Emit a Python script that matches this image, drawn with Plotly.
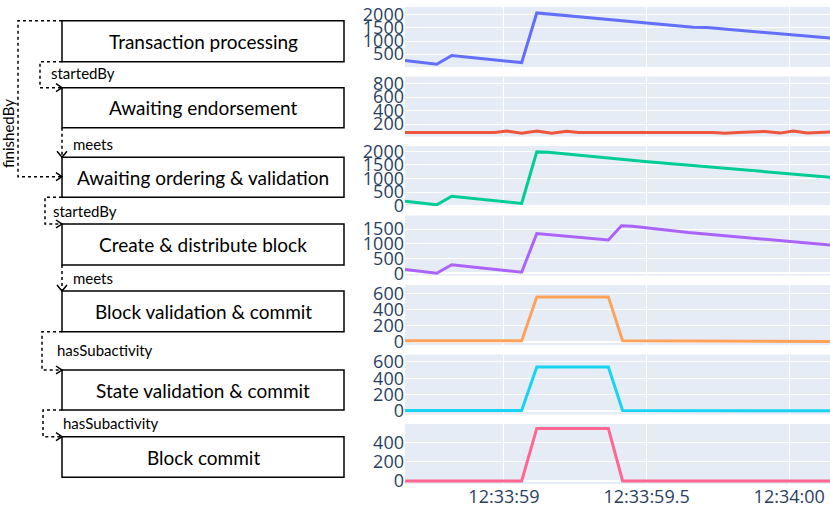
import plotly.graph_objects as go
from plotly.subplots import make_subplots

# ---------------- data ----------------
D = "2021-01-01 "
t_main = [D + s for s in ["12:33:58.653", "12:33:58.764", "12:33:58.817", "12:33:59.062", "12:33:59.115",
                          "12:33:59.663", "12:33:59.712", "12:34:00.143"]]
tx_processing = [257, 117, 448, 181, 2064, 1520, 1515, 1109]

t_endorse = [D + s for s in ["12:33:58.653", "12:33:58.968", "12:33:59.009", "12:33:59.062", "12:33:59.115",
                             "12:33:59.167", "12:33:59.220", "12:33:59.261", "12:33:59.733", "12:33:59.775",
                             "12:33:59.820", "12:33:59.915", "12:33:59.968", "12:34:00.014", "12:34:00.063",
                             "12:34:00.143"]]
awaiting_endorsement = [75, 75, 95, 62, 97, 62, 92, 75, 75, 63, 75, 90, 65, 97, 68, 82]

t_order = [D + s for s in ["12:33:58.653", "12:33:58.764", "12:33:58.817", "12:33:59.062", "12:33:59.115",
                           "12:33:59.155", "12:33:59.494", "12:33:59.974", "12:34:00.143"]]
awaiting_ordering = [165, 38, 354, 89, 1975, 1965, 1620, 1210, 1050]

t_block = [D + s for s in ["12:33:58.653", "12:33:58.764", "12:33:58.817", "12:33:59.062", "12:33:59.115",
                           "12:33:59.366", "12:33:59.412", "12:33:59.450", "12:33:59.647", "12:33:59.705",
                           "12:33:59.916", "12:34:00.143"]]
create_block = [127, 0, 289, 35, 1351, 1132, 1617, 1600, 1386, 1340, 1155, 958]

t_commit = [D + s for s in ["12:33:58.653", "12:33:59.062", "12:33:59.115", "12:33:59.366", "12:33:59.416",
                            "12:34:00.143"]]
block_validation = [13, 13, 558, 558, 13, 5]
state_validation = [8, 8, 538, 538, 8, 5]
block_commit = [0, 0, 549, 549, 0, 0]

x_tickvals = [D + "12:33:59", D + "12:33:59.5", D + "12:34:00"]
x_ticktext = ["12:33:59", "12:33:59.5", "12:34:00"]
x_range = [D + "12:33:58.653", D + "12:34:00.143"]

activities = ["Transaction processing", "Awaiting endorsement", "Awaiting ordering & validation",
              "Create & distribute block", "Block validation & commit", "State validation & commit",
              "Block commit"]
relations = ["startedBy", "meets", "startedBy", "meets", "hasSubactivity", "hasSubactivity"]

series = [
    (t_main, tx_processing, "#636efa", [15, 2290], 500),
    (t_endorse, awaiting_endorsement, "#EF553B", [15, 905], 200),
    (t_order, awaiting_ordering, "#00cc96", [-5, 2190], 500),
    (t_block, create_block, "#ab63fa", [-75, 1962], 500),
    (t_commit, block_validation, "#FFA15A", [-38, 705], 200),
    (t_commit, state_validation, "#19d3f3", [-41, 691], 200),
    (t_commit, block_commit, "#FF6692", [-32, 595], 200),
]

# ---------------- figure ----------------
W, H = 830, 515
MT, MB = 7, 31
PH = H - MT - MB

fig = make_subplots(rows=7, cols=1, shared_xaxes=True, vertical_spacing=0.02)
for i, (xs, ys, col, rng, dt) in enumerate(series, start=1):
    fig.add_trace(go.Scatter(x=xs, y=ys, mode="lines", line=dict(color=col, width=3),
                             showlegend=False), row=i, col=1)
    fig.update_yaxes(range=rng, dtick=dt, row=i, col=1)

fig.update_xaxes(domain=[405 / W, 1], range=x_range, tickvals=x_tickvals, ticktext=x_ticktext,
                 automargin=False)
fig.update_yaxes(automargin=False)


def X(px):
    return px / W


def Y(py):
    return (H - MB - py) / PH


shapes = []
annotations = []

# boxes
boxes = [(20.7, 61.7), (87.7, 127.7), (157.3, 197.3), (224, 265), (291, 331.7), (370, 410), (436.7, 477.3)]
BX0, BX1 = 62, 344
for (top, bot), name in zip(boxes, activities):
    shapes.append(dict(type="rect", xref="paper", yref="paper", x0=X(BX0), x1=X(BX1), y0=Y(bot), y1=Y(top),
                       line=dict(color="black", width=1.5), fillcolor="white", layer="above"))
    annotations.append(dict(xref="paper", yref="paper", x=X((BX0 + BX1) / 2), y=Y((top + bot) / 2),
                            text=name, showarrow=False, xanchor="center", yanchor="middle",
                            font=dict(family="Lato", size=19, color="black")))


def dotted_path(points):
    p = "M " + " L ".join(f"{X(a):.5f},{Y(b):.5f}" for a, b in points)
    shapes.append(dict(type="path", xref="paper", yref="paper", path=p,
                       line=dict(color="black", width=1.5, dash="dot")))


def chevron(points):
    p = "M " + " L ".join(f"{X(a):.5f},{Y(b):.5f}" for a, b in points)
    shapes.append(dict(type="path", xref="paper", yref="paper", path=p,
                       line=dict(color="black", width=1.5)))


def elbow(y_from, y_to, xl):
    dotted_path([(BX0, y_from), (xl, y_from), (xl, y_to), (BX0 - 1, y_to)])
    chevron([(BX0 - 6, y_to - 4), (BX0, y_to), (BX0 - 6, y_to + 4)])


def down(y_from, y_to):
    dotted_path([(BX0, y_from), (BX0, y_to - 1)])
    chevron([(BX0 - 5, y_to - 6), (BX0, y_to), (BX0 + 5, y_to - 6)])


# finishedBy (1 -> 3)
elbow(20.7, 176.7, 18)
annotations.append(dict(xref="paper", yref="paper", x=X(8), y=Y(134), text="finishedBy", textangle=-90,
                        showarrow=False, xanchor="center", yanchor="middle",
                        font=dict(family="Lato", size=15, color="black")))

elbow(61.7, 87.7, 40)
down(127.7, 157.3)
elbow(197.3, 224, 45)
down(265, 291)
elbow(331.7, 370, 42)
elbow(410, 436.7, 43)

label_pos = [(49, 73), (71, 144), (51, 210.7), (71, 278), (55, 350), (61, 423)]
for (lx, ly), rel in zip(label_pos, relations):
    annotations.append(dict(xref="paper", yref="paper", x=X(lx), y=Y(ly), text=rel, showarrow=False,
                            xanchor="left", yanchor="middle",
                            font=dict(family="Lato", size=15, color="black")))

fig.update_layout(width=W, height=H, margin=dict(l=0, r=0, t=MT, b=MB), font=dict(size=18),
                  showlegend=False, paper_bgcolor="white", shapes=shapes, annotations=annotations)

fig.write_html("out.html", config={"displayModeBar": False},
               post_script="document.body.style.margin='0';")
